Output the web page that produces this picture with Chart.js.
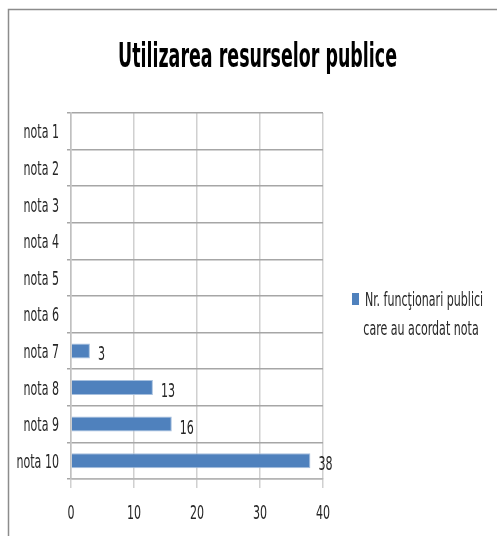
<!DOCTYPE html>
<html>
<head>
<meta charset="utf-8">
<script src="https://cdn.jsdelivr.net/npm/chart.js@4"></script>
<style>
html,body{margin:0;padding:0;background:#fff;}
canvas{display:block;}
</style>
</head>
<body>
<canvas id="c" width="497" height="536"></canvas>
<script>
const titleText = 'Utilizarea resurselor publice';
const categories = ['nota 1','nota 2','nota 3','nota 4','nota 5','nota 6','nota 7','nota 8','nota 9','nota 10'];
const seriesLabel = ['Nr. funcţionari publici', 'care au acordat nota'];
const values = [0, 0, 0, 0, 0, 0, 3, 13, 16, 38];
const xTicks = [0, 10, 20, 30, 40];

const FAMILY = "'DejaVu Sans Condensed', 'Liberation Sans Narrow', sans-serif";
const TXT = '#262626';
const BAR = '#4f81bd';

// horizontal squeeze so the wide fallback fonts fit the narrow original lettering
function squeeze(ctx, font, sample, target) {
  ctx.save();
  ctx.font = font;
  const w = ctx.measureText(sample).width;
  ctx.restore();
  return w ? target / w : 1;
}
function drawText(ctx, text, x, y, align, k) {
  ctx.save();
  ctx.translate(x, y);
  ctx.scale(k, 1);
  ctx.textAlign = align;
  ctx.textBaseline = 'alphabetic';
  ctx.fillText(text, 0, 0);
  ctx.restore();
}

const framePlugin = {
  id: 'frame',
  beforeDraw(chart) {
    const ctx = chart.ctx;
    ctx.save();
    ctx.fillStyle = '#fff';
    ctx.fillRect(0, 0, chart.width, chart.height);
    ctx.strokeStyle = '#8c8c8c';
    ctx.lineWidth = 1.5;
    ctx.beginPath();
    ctx.moveTo(8.5, chart.height);
    ctx.lineTo(8.5, 9.5);
    ctx.lineTo(chart.width, 9.5);
    ctx.stroke();
    ctx.restore();
  }
};

const textPlugin = {
  id: 'texts',
  afterDraw(chart) {
    const ctx = chart.ctx;
    const area = chart.chartArea;
    const small = '19px ' + FAMILY;
    const kS = squeeze(ctx, small, 'nota 10', 42.5);

    // title
    const tFont = 'bold 34px ' + FAMILY;
    const kT = squeeze(ctx, tFont, titleText, 279);
    ctx.save();
    ctx.fillStyle = '#000';
    ctx.font = tFont;
    drawText(ctx, titleText, 257.5, 67, 'center', kT);
    ctx.restore();

    ctx.save();
    ctx.font = small;
    ctx.fillStyle = TXT;

    // y category labels
    const ys = chart.scales.y;
    chart.data.labels.forEach((lab, i) => {
      const py = ys.getPixelForValue(i);
      drawText(ctx, lab, area.left - 12, py + 7, 'right', kS);
    });

    // x tick labels
    const xs = chart.scales.x;
    xTicks.forEach(v => {
      drawText(ctx, String(v), xs.getPixelForValue(v), area.bottom + 40, 'center', kS);
    });

    // value labels
    const meta = chart.getDatasetMeta(0);
    meta.data.forEach((el, i) => {
      const v = chart.data.datasets[0].data[i];
      if (!v) return;
      drawText(ctx, String(v), el.x + 8, el.y + 9.5, 'left', kS);
    });

    // legend
    const ds = chart.data.datasets[0];
    ctx.fillStyle = ds.backgroundColor;
    ctx.fillRect(352, 293, 7, 12);
    ctx.fillStyle = TXT;
    drawText(ctx, seriesLabel[0], 424, 306, 'center', kS);
    drawText(ctx, seriesLabel[1], 421, 335, 'center', kS);
    ctx.restore();
  }
};

new Chart(document.getElementById('c'), {
  type: 'bar',
  data: {
    labels: categories,
    datasets: [{
      label: seriesLabel.join(' '),
      data: values,
      backgroundColor: BAR,
      borderColor: '#a7c0de',
      borderWidth: (c) => (c.raw ? 1 : 0),
      borderSkipped: 'start',
      barPercentage: 1,
      categoryPercentage: 0.41
    }]
  },
  options: {
    indexAxis: 'y',
    responsive: false,
    animation: false,
    devicePixelRatio: 1,
    layout: { padding: { left: 0, right: 174, top: 113, bottom: 0 } },
    plugins: {
      legend: { display: false },
      tooltip: { enabled: false },
      title: { display: false }
    },
    scales: {
      x: {
        min: 0,
        max: 40,
        afterBuildTicks(scale) { scale.ticks = xTicks.map(v => ({ value: v })); },
        afterFit(scale) { scale.height = 57; },
        grid: { color: '#d0d0d0', lineWidth: 1.5, tickLength: 9, drawTicks: true },
        border: { display: true, color: '#b5b5b5', width: 1.5 },
        ticks: { display: false }
      },
      y: {
        afterFit(scale) { scale.width = 71; },
        grid: { color: '#a6a6a6', lineWidth: 1.5, tickLength: 4, offset: true },
        border: { display: true, color: '#c0c0c0', width: 1.5 },
        ticks: { display: false }
      }
    }
  },
  plugins: [framePlugin, textPlugin]
});
</script>
</body>
</html>
